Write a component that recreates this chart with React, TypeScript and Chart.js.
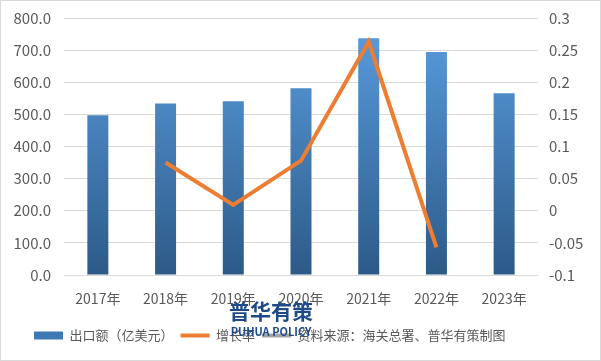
import React, { useEffect, useRef } from "react";
import { Chart, registerables } from "chart.js";

Chart.register(...registerables);

const categories = ["2017年", "2018年", "2019年", "2020年", "2021年", "2022年", "2023年"];
const exportValues = [497, 534, 541, 581, 737, 694, 566];
const growthRates = [null, 0.075, 0.009, 0.078, 0.263, -0.057, null];
const sourceSeries = [null, null, null, null, null, null, null];
const barLabel = "出口额（亿美元）";
const lineLabel = "增长率";
const sourceLabel = "资料来源：海关总署、普华有策制图";
const watermarkTitle = "普华有策";
const watermarkSub = "PUHUA POLICY";

const FONT = "'Noto Sans CJK SC', 'Noto Sans', sans-serif";

export default function App() {
  const ref = useRef<HTMLCanvasElement | null>(null);

  useEffect(() => {
    document.body.style.margin = "0";
    const canvas = ref.current;
    if (!canvas) return;

    const watermark = {
      id: "watermark",
      afterLayout(chart: any) {
        if (chart.legend) {
          chart.legend.left = 26;
        }
      },
      afterDraw(chart: any) {
        const ctx = chart.ctx;
        ctx.save();
        ctx.fillStyle = "#1F4A8A";
        ctx.textAlign = "center";
        ctx.textBaseline = "middle";
        ctx.font = `bold 21px ${FONT}`;
        ctx.fillText(watermarkTitle, 270, 310);
        ctx.font = `bold 11px ${FONT}`;
        ctx.fillText(watermarkSub, 270, 331);
        ctx.restore();
      },
    };

    const chart = new Chart(canvas, {
      type: "bar",
      data: {
        labels: categories,
        datasets: [
          {
            type: "line",
            label: lineLabel,
            data: growthRates as any,
            yAxisID: "y1",
            borderColor: "#ED7D31",
            backgroundColor: "#ED7D31",
            borderWidth: 4,
            pointRadius: 0,
            tension: 0,
            spanGaps: false,
            order: 0,
          },
          {
            type: "line",
            label: sourceLabel,
            data: sourceSeries as any,
            yAxisID: "y1",
            borderColor: "#A5A5A5",
            backgroundColor: "#A5A5A5",
            borderWidth: 4,
            pointRadius: 0,
            order: 0,
          },
          {
            type: "bar",
            label: barLabel,
            data: exportValues,
            yAxisID: "y",
            barPercentage: 0.31,
            categoryPercentage: 1,
            order: 1,
            backgroundColor: (c: any) => {
              const area = c.chart.chartArea;
              if (!area) return "#4A88C8";
              const g = c.chart.ctx.createLinearGradient(0, area.top, 0, area.bottom);
              g.addColorStop(0, "#5B9EE0");
              g.addColorStop(1, "#2C5A88");
              return g;
            },
          },
        ],
      },
      options: {
        animation: false,
        responsive: true,
        maintainAspectRatio: false,
        layout: { padding: { top: 17, left: 0, right: 0, bottom: 8 } },
        plugins: {
          tooltip: { enabled: false },
          legend: {
            position: "bottom",
            align: "start",
            labels: {
              color: "#595959",
              font: { family: FONT, size: 13 },
              usePointStyle: true,
              pointStyleWidth: 29,
              boxHeight: 8,
              padding: 7,
              generateLabels: (chart: any) => {
                const order = [2, 0, 1];
                return order.map((i) => {
                  const ds = chart.data.datasets[i];
                  const isBar = ds.type === "bar";
                  return {
                    text: ds.label,
                    fillStyle: isBar ? "#3D79B5" : ds.borderColor,
                    strokeStyle: isBar ? "#3D79B5" : ds.borderColor,
                    lineWidth: isBar ? 0 : 4,
                    pointStyle: isBar ? "rect" : "line",
                    hidden: false,
                    datasetIndex: i,
                    fontColor: "#595959",
                  };
                });
              },
            },
          },
        },
        scales: {
          x: {
            grid: { display: false },
            border: { display: false },
            ticks: { color: "#595959", font: { family: FONT, size: 14 }, padding: 7 },
            afterFit: (s: any) => {
              s.height = 47;
            },
          },
          y: {
            position: "left",
            min: 0,
            max: 800,
            grid: { color: "#D9D9D9", drawTicks: true, tickLength: 10, tickColor: "rgba(0,0,0,0)" },
            border: { display: false },
            ticks: {
              stepSize: 100,
              color: "#595959",
              font: { family: FONT, size: 15 },
              padding: 3,
              callback: (v: any) => Number(v).toFixed(1),
            },
            afterFit: (s: any) => {
              s.width = 63;
            },
          },
          y1: {
            position: "right",
            min: -0.1,
            max: 0.3,
            grid: { display: false, drawTicks: true, tickLength: 8, tickColor: "rgba(0,0,0,0)" },
            border: { display: false },
            ticks: {
              stepSize: 0.05,
              color: "#595959",
              font: { family: FONT, size: 15 },
              padding: 3,
              callback: (v: any) => String(Math.round(Number(v) * 100) / 100),
            },
            afterFit: (s: any) => {
              s.width = 62;
            },
          },
        },
      },
      plugins: [watermark],
    } as any);

    return () => chart.destroy();
  }, []);

  return (
    <div
      style={{
        width: 601,
        height: 361,
        boxSizing: "border-box",
        border: "1px solid #D9D9D9",
        background: "#fff",
        position: "relative",
      }}
    >
      <canvas ref={ref} />
    </div>
  );
}
